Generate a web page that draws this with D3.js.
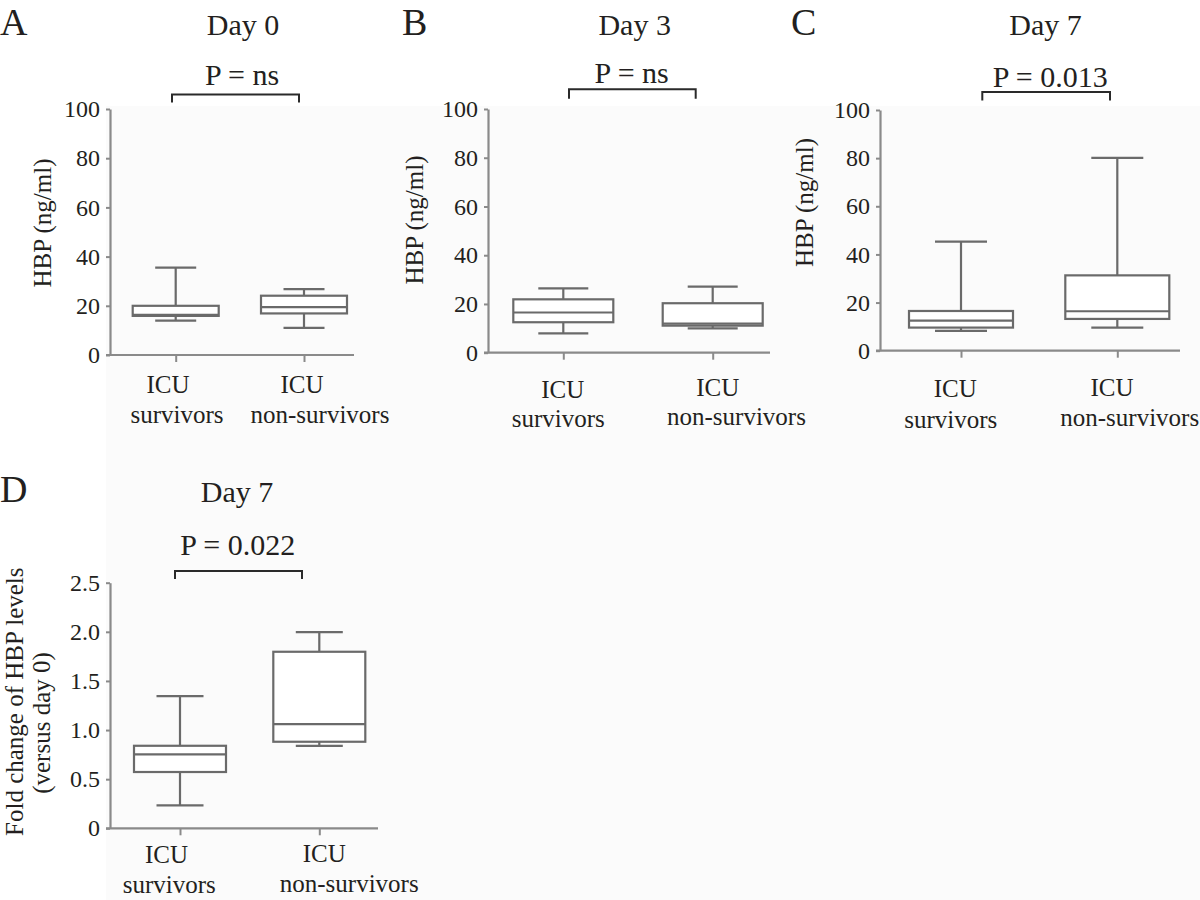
<!DOCTYPE html>
<html>
<head>
<meta charset="utf-8">
<script src="https://cdn.jsdelivr.net/npm/d3@7"></script>
<style>
  html, body { margin: 0; padding: 0; background: #ffffff; }
  svg { display: block; }
  svg text { font-family: "Liberation Serif", "Times New Roman", "DejaVu Serif", serif !important; fill: #231f20; }
</style>
</head>
<body>
<svg id="chart" width="1200" height="900"></svg>
<script>
// ---------------- DATA ----------------
const categories = ["ICU survivors", "ICU non-survivors"];
const categoryLines = [["ICU", "survivors"], ["ICU", "non-survivors"]];

const panelLetters = ["A", "B", "C", "D"];
const panelTitles = ["Day 0", "Day 3", "Day 7", "Day 7"];
const pValueLabels = ["P = ns", "P = ns", "P = 0.013", "P = 0.022"];

const hbpTitle = ["HBP (ng/ml)"];
const foldTitle = ["Fold change of HBP levels", "(versus day 0)"];

const hbpTicks = [0, 20, 40, 60, 80, 100];
const hbpTickLabels = ["0", "20", "40", "60", "80", "100"];
const foldTicks = [0, 0.5, 1.0, 1.5, 2.0, 2.5];
const foldTickLabels = ["0", "0.5", "1.0", "1.5", "2.0", "2.5"];

// box statistics: [lower whisker, Q1, median, Q3, upper whisker]
const day0Survivors    = [14.0, 15.9, 16.3, 20.0, 35.5];
const day0NonSurvivors = [11.0, 16.9, 19.5, 24.1, 26.8];
const day3Survivors    = [7.9, 12.5, 16.5, 21.9, 26.4];
const day3NonSurvivors = [10.0, 11.1, 11.9, 20.3, 27.1];
const day7Survivors    = [8.2, 9.6, 12.5, 16.5, 45.3];
const day7NonSurvivors = [9.6, 13.2, 16.4, 31.3, 80.1];
const foldSurvivors    = [0.234, 0.573, 0.753, 0.840, 1.346];
const foldNonSurvivors = [0.840, 0.881, 1.061, 1.797, 1.997];

// ---------------- LAYOUT ----------------
const panels = [
  { letter: panelLetters[0], title: panelTitles[0], p: pValueLabels[0],
    data: [day0Survivors, day0NonSurvivors], ticks: hbpTicks, tickLabels: hbpTickLabels, yMax: 100, yTitle: hbpTitle,
    ax: 110, y0: 355, yTop: 109, xEnd: 354, cx: [175.7, 304], boxW: 86, capW: 41,
    letterX: 0, topBase: 35, titleX: 243, pX: 242, pBase: 85, brY: 94.5, brX: [172, 299], brDrop: 8,
    titleXs: [51], titleYs: [223],
    lab1: [[168, 393], [302, 393]], lab2: [[177, 423], [320, 423]] },
  { letter: panelLetters[1], title: panelTitles[1], p: pValueLabels[1],
    data: [day3Survivors, day3NonSurvivors], ticks: hbpTicks, tickLabels: hbpTickLabels, yMax: 100, yTitle: hbpTitle,
    ax: 488, y0: 352.7, yTop: 109, xEnd: 770, cx: [563.3, 712.7], boxW: 100, capW: 50,
    letterX: 402, topBase: 35, titleX: 634.7, pX: 631.7, pBase: 83.3, brY: 89.3, brX: [569, 695.7], brDrop: 9.5,
    titleXs: [423], titleYs: [220],
    lab1: [[562.8, 397.5], [717.8, 395.5]], lab2: [[558.3, 426.5], [736.5, 425]] },
  { letter: panelLetters[2], title: panelTitles[2], p: pValueLabels[2],
    data: [day7Survivors, day7NonSurvivors], ticks: hbpTicks, tickLabels: hbpTickLabels, yMax: 100, yTitle: hbpTitle,
    ax: 880, y0: 350.7, yTop: 110, xEnd: 1180, cx: [961, 1117.3], boxW: 104, capW: 52,
    letterX: 791, topBase: 35, titleX: 1045.5, pX: 1050.3, pBase: 86.7, brY: 92, brX: [982.3, 1110], brDrop: 8.5,
    titleXs: [812.5], titleYs: [202.5],
    lab1: [[955.3, 396.7], [1112, 396]], lab2: [[950.8, 428], [1129.7, 426]] },
  { letter: panelLetters[3], title: panelTitles[3], p: pValueLabels[3],
    data: [foldSurvivors, foldNonSurvivors], ticks: foldTicks, tickLabels: foldTickLabels, yMax: 2.5, yTitle: foldTitle,
    ax: 110, y0: 828.3, yTop: 582.7, xEnd: 378, cx: [180, 319.3], boxW: 92, capW: 47,
    letterX: 0, topBase: 501.7, titleX: 237, pX: 237.8, pBase: 555, brY: 571, brX: [175, 302], brDrop: 8,
    titleXs: [23, 50], titleYs: [701.7, 723],
    lab1: [[166.5, 863], [324.2, 861.7]], lab2: [[169.2, 893], [349.2, 891.7]] }
];

const SERIF = '"Liberation Serif", "Times New Roman", "DejaVu Serif", serif';
const BOX_COLOR = "#6a6a6a";
const AXIS_COLOR = "#8a8a8a";
const TEXT_COLOR = "#231f20";

const svg = d3.select("#chart");

// faint scanned-page background behind the plots
svg.append("rect").attr("x", 106).attr("y", 106).attr("width", 1094).attr("height", 794).attr("fill", "#fbfbfb");

panels.forEach(P => {
  const g = svg.append("g");

  const y = d3.scaleLinear().domain([0, P.yMax]).range([P.y0, P.yTop]);
  const x = d3.scalePoint().domain(categories).range(P.cx);

  // panel letter, title, p-value
  g.append("text").attr("x", P.letterX).attr("y", P.topBase)
    .attr("font-size", 38).text(P.letter);
  g.append("text").attr("x", P.titleX).attr("y", P.topBase)
    .attr("text-anchor", "middle").attr("font-size", 30).text(P.title);
  g.append("text").attr("x", P.pX).attr("y", P.pBase)
    .attr("text-anchor", "middle").attr("font-size", 30).text(P.p);

  // significance bracket
  g.append("path")
    .attr("d", `M${P.brX[0]},${P.brY + P.brDrop}V${P.brY}H${P.brX[1]}V${P.brY + P.brDrop}`)
    .attr("fill", "none").attr("stroke", "#2a2a2a").attr("stroke-width", 2);

  // y axis
  const yAxis = d3.axisLeft(y).tickValues(P.ticks)
    .tickFormat((d, i) => P.tickLabels[i]).tickSize(4).tickSizeOuter(0).tickPadding(6);
  const yg = g.append("g").attr("transform", `translate(${P.ax},0)`).call(yAxis)
    .attr("font-family", null).attr("font-size", null);
  yg.select(".domain").attr("stroke", AXIS_COLOR).attr("stroke-width", 2.2);
  yg.selectAll(".tick line").attr("stroke", AXIS_COLOR).attr("stroke-width", 2);
  yg.selectAll(".tick text")
    .style("font-family", SERIF).style("font-size", "24px").attr("fill", TEXT_COLOR);

  // x axis line + ticks
  g.append("line").attr("x1", P.ax - 4).attr("x2", P.xEnd)
    .attr("y1", P.y0).attr("y2", P.y0).attr("stroke", AXIS_COLOR).attr("stroke-width", 2.2);
  const xAxis = d3.axisBottom(x).tickSize(7).tickFormat("");
  const xg = g.append("g").attr("transform", `translate(0,${P.y0})`).call(xAxis);
  xg.select(".domain").remove();
  xg.selectAll(".tick line").attr("stroke", AXIS_COLOR).attr("stroke-width", 2);

  // category labels (two lines)
  categoryLines.forEach((lines, i) => {
    g.append("text").attr("x", P.lab1[i][0]).attr("y", P.lab1[i][1])
      .attr("text-anchor", "middle").attr("font-size", 25).text(lines[0]);
    g.append("text").attr("x", P.lab2[i][0]).attr("y", P.lab2[i][1])
      .attr("text-anchor", "middle").attr("font-size", 25).text(lines[1]);
  });

  // y axis title (rotated)
  P.yTitle.forEach((t, i) => {
    g.append("text")
      .attr("transform", `translate(${P.titleXs[i]},${P.titleYs[i]}) rotate(-90)`)
      .attr("text-anchor", "middle").attr("font-size", 25).text(t);
  });

  // box plots
  P.data.forEach((s, i) => {
    const cx = x(categories[i]);
    const [lo, q1, med, q3, hi] = s;
    const bg = g.append("g").attr("stroke", BOX_COLOR).attr("stroke-width", 2.2).attr("fill", "none");
    // whiskers
    bg.append("line").attr("x1", cx).attr("x2", cx).attr("y1", y(q3)).attr("y2", y(hi));
    bg.append("line").attr("x1", cx).attr("x2", cx).attr("y1", y(q1)).attr("y2", y(lo));
    bg.append("line").attr("x1", cx - P.capW / 2).attr("x2", cx + P.capW / 2).attr("y1", y(hi)).attr("y2", y(hi));
    bg.append("line").attr("x1", cx - P.capW / 2).attr("x2", cx + P.capW / 2).attr("y1", y(lo)).attr("y2", y(lo));
    // box
    bg.append("rect").attr("x", cx - P.boxW / 2).attr("width", P.boxW)
      .attr("y", y(q3)).attr("height", y(q1) - y(q3)).attr("fill", "#ffffff");
    // median
    bg.append("line").attr("x1", cx - P.boxW / 2).attr("x2", cx + P.boxW / 2)
      .attr("y1", y(med)).attr("y2", y(med));
  });
});
</script>
</body>
</html>
